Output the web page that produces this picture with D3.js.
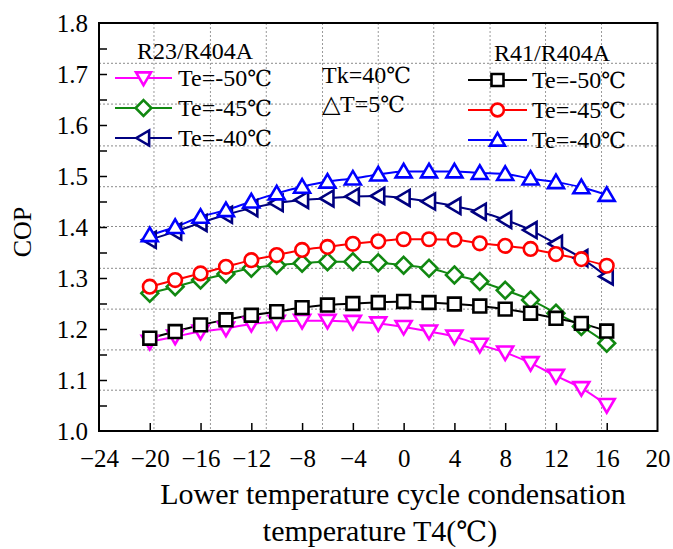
<!DOCTYPE html>
<html><head><meta charset="utf-8">
<script src="https://cdn.jsdelivr.net/npm/d3@7"></script>
<style>
html,body{margin:0;padding:0;background:#fff;}
</style></head><body>
<svg id="c" width="673" height="549"></svg>
<script>
const xVals = [-20,-18,-16,-14,-12,-10,-8,-6,-4,-2,0,2,4,6,8,10,12,14,16];
const r23_te50 = [1.175,1.185,1.195,1.201,1.210,1.214,1.216,1.216,1.214,1.211,1.204,1.195,1.185,1.169,1.154,1.133,1.108,1.084,1.051];
const r23_te45 = [1.270,1.283,1.296,1.308,1.319,1.325,1.329,1.332,1.332,1.330,1.325,1.319,1.306,1.293,1.276,1.257,1.231,1.205,1.172];
const r23_te40 = [1.375,1.391,1.408,1.424,1.437,1.447,1.453,1.456,1.460,1.461,1.457,1.450,1.441,1.430,1.414,1.394,1.367,1.339,1.303];
const r41_te50 = [1.182,1.195,1.208,1.218,1.227,1.234,1.242,1.247,1.250,1.252,1.254,1.252,1.249,1.245,1.239,1.231,1.221,1.211,1.196];
const r41_te45 = [1.283,1.296,1.309,1.322,1.335,1.345,1.355,1.361,1.367,1.372,1.376,1.376,1.375,1.368,1.363,1.357,1.347,1.337,1.324];
const r41_te40 = [1.384,1.400,1.420,1.433,1.450,1.466,1.479,1.489,1.495,1.503,1.509,1.509,1.509,1.506,1.504,1.495,1.488,1.478,1.463];
const xTicks = [-24,-20,-16,-12,-8,-4,0,4,8,12,16,20];
const yTicks = [1.0,1.1,1.2,1.3,1.4,1.5,1.6,1.7,1.8];
const yMinorTicks = [1.05,1.15,1.25,1.35,1.45,1.55,1.65,1.75];
const gridX = [-19.67,-15.22,-10.82,-6.39,-2.0,2.37,6.81,11.18,15.59];
const gridY = [1.080,1.159,1.239,1.319,1.401,1.479,1.559,1.641,1.721];
const legendLeftTitle = "R23/R404A";
const legendRightTitle = "R41/R404A";
const legendLabels = ["Te=-50","Te=-45","Te=-40"];
const degC = "℃";
const noteLines = ["Tk=40","\u25B3T=5"];
const xTitle = ["Lower temperature cycle condensation","temperature T4("];
const yTitle = "COP";

const SERIF = "'Liberation Serif','Times New Roman',serif";
const CJK = "'DejaVu Serif','Noto Sans CJK SC',serif";

const series = [
  {name:"R23 -50", values:r23_te50, color:"#ff00ff", shape:"tdown", group:0, row:0},
  {name:"R23 -45", values:r23_te45, color:"#118811", shape:"diamond", group:0, row:1},
  {name:"R23 -40", values:r23_te40, color:"#000080", shape:"tleft", group:0, row:2},
  {name:"R41 -50", values:r41_te50, color:"#000000", shape:"square", group:1, row:0},
  {name:"R41 -45", values:r41_te45, color:"#ff0000", shape:"circle", group:1, row:1},
  {name:"R41 -40", values:r41_te40, color:"#0000ff", shape:"tup", group:1, row:2}
];

const svg = d3.select("#c");
svg.append("rect").attr("width",673).attr("height",549).attr("fill","#fff");
const L=99, R=657.5, T=23, B=431;
const x = d3.scaleLinear().domain([-24,20]).range([L,R]);
const y = d3.scaleLinear().domain([1.0,1.8]).range([B,T]);

function addText(parent, xx, yy, size, anchor){
  return parent.append("text").attr("x",xx).attr("y",yy)
    .attr("text-anchor",anchor||"start")
    .style("font-family",SERIF).style("font-size",size+"px").style("fill","#000");
}
function addDeg(t, size){
  t.append("tspan").style("font-family",CJK).style("font-size",(size*0.92)+"px").text(degC);
}

// grid
const g = svg.append("g");
g.selectAll(".gx").data(gridX).enter().append("line")
  .attr("x1",d=>x(d)).attr("x2",d=>x(d)).attr("y1",T).attr("y2",B)
  .attr("stroke","#9a9a9a").attr("stroke-width",1).attr("stroke-dasharray","2,2");
g.selectAll(".gy").data(gridY).enter().append("line")
  .attr("y1",d=>y(d)).attr("y2",d=>y(d)).attr("x1",L).attr("x2",R)
  .attr("stroke","#8a8a8a").attr("stroke-width",1).attr("stroke-dasharray","2,2");

// axes
const xAxis = d3.axisBottom(x).tickValues(xTicks).tickSize(-8).tickPadding(18).tickFormat(d3.format("d"));
const ax = svg.append("g").attr("transform",`translate(0,${B})`).call(xAxis);
const yAxis = d3.axisLeft(y).tickValues(yTicks).tickSize(-8).tickPadding(11).tickFormat(d3.format(".1f"));
const ay = svg.append("g").attr("transform",`translate(${L},0)`).call(yAxis);
svg.append("g").attr("transform",`translate(${L},0)`)
  .call(d3.axisLeft(y).tickValues(yMinorTicks).tickSize(-8).tickFormat(""))
  .select(".domain").remove();
[ax,ay].forEach(a=>{
  a.attr("font-family",null).attr("font-size",null);
  a.selectAll("text").style("font-size","25px").style("font-family",SERIF).style("fill","#000");
});
svg.selectAll(".tick line").attr("stroke","#000").attr("stroke-width",1.5);
ax.selectAll(".tick").filter(d=>d===-24||d===20).select("line").remove();
ay.selectAll(".tick").filter(d=>d===1.0||d===1.8).select("line").remove();
svg.selectAll(".domain").remove();
svg.append("rect").attr("x",L).attr("y",T).attr("width",R-L).attr("height",B-T)
  .attr("fill","none").attr("stroke","#000").attr("stroke-width",2);

// marker shapes
function markerPath(shape, s){
  const h=s/2;
  switch(shape){
    case "tdown": return `M${-h},${-h*0.75}L${h},${-h*0.75}L0,${h*0.95}Z`;
    case "tup": return `M${-h},${h*0.75}L${h},${h*0.75}L0,${-h*0.95}Z`;
    case "tleft": return `M${h*0.75},${-h}L${h*0.75},${h}L${-h*0.95},0Z`;
    case "diamond": return `M0,${-h*1.05}L${h*1.05},0L0,${h*1.05}L${-h*1.05},0Z`;
    case "square": return `M${-h*0.8},${-h*0.8}H${h*0.8}V${h*0.8}H${-h*0.8}Z`;
    case "circle": {const r=h*0.85; return `M${r},0A${r},${r} 0 1,1 ${-r},0A${r},${r} 0 1,1 ${r},0Z`;}
  }
}
const MS = 16;
const line = d3.line().x((d,i)=>x(xVals[i])).y(d=>y(d)).curve(d3.curveMonotoneX);
const plot = svg.append("g");
series.forEach(s=>{
  plot.append("path").attr("d",line(s.values)).attr("fill","none")
    .attr("stroke",s.color).attr("stroke-width",2);
});
series.forEach(s=>{
  plot.selectAll(null).data(s.values).enter().append("path")
    .attr("transform",(d,i)=>`translate(${x(xVals[i])},${y(d)})`)
    .attr("d",markerPath(s.shape,MS)).attr("fill","#fff")
    .attr("stroke",s.color).attr("stroke-width",2.6);
});

// legends
const leg = [{title:legendLeftTitle, tx:195, ty:59, lx1:115, lx2:172, rows:[78,108,138], textX:178},
             {title:legendRightTitle, tx:552, ty:61, lx1:468, lx2:527, rows:[80,110,140], textX:532}];
leg.forEach((lg,gi)=>{
  addText(svg, lg.tx, lg.ty, 24, "middle").text(lg.title);
  series.filter(s=>s.group===gi).forEach(s=>{
    const yy = lg.rows[s.row];
    svg.append("line").attr("x1",lg.lx1).attr("x2",lg.lx2).attr("y1",yy).attr("y2",yy)
      .attr("stroke",s.color).attr("stroke-width",2.2);
    svg.append("path").attr("transform",`translate(${(lg.lx1+lg.lx2)/2},${yy})`)
      .attr("d",markerPath(s.shape,MS-1)).attr("fill","#fff").attr("stroke",s.color).attr("stroke-width",2.6);
    const t = addText(svg, lg.textX, yy+8, 24);
    t.append("tspan").text(legendLabels[s.row]);
    addDeg(t, 24);
  });
});
noteLines.forEach((s,i)=>{
  const t = addText(svg, 322, 83+i*29, 24);
  t.append("tspan").text(s);
  addDeg(t, 24);
});

// titles
const xTitleX = [393, 380];
xTitle.forEach((s,i)=>{
  const t = addText(svg, xTitleX[i], 504+i*37, 30, "middle");
  t.append("tspan").text(s);
  if(i===1){ addDeg(t, 30); t.append("tspan").text(")"); }
});
addText(svg, 0, 0, 26, "middle").attr("x",null).attr("y",null)
  .attr("transform","translate(31,232) rotate(-90)").text(yTitle);
</script></body></html>
